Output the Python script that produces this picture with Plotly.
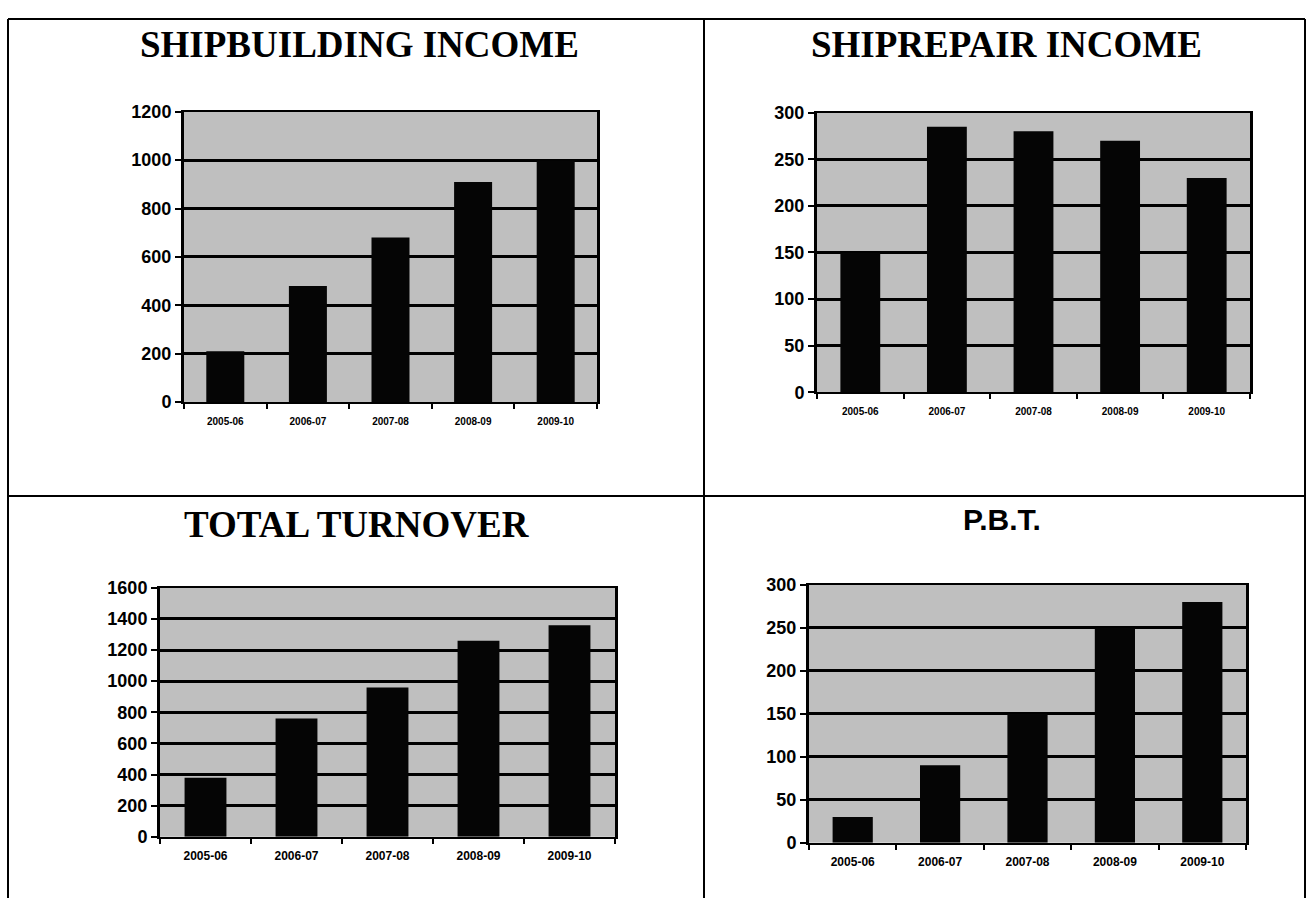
import plotly.graph_objects as go

W, H = 1309, 899          # target picture size (pixels)
FIG_H = 908               # figure height, slightly taller to fill the captured frame

years = ["2005-06", "2006-07", "2007-08", "2008-09", "2009-10"]
shipbuilding = [210, 480, 680, 910, 1000]
shiprepair = [150, 285, 280, 270, 230]
turnover = [380, 760, 960, 1260, 1360]
pbt = [30, 90, 150, 250, 280]

titles = ["SHIPBUILDING INCOME", "SHIPREPAIR INCOME", "TOTAL TURNOVER", "P.B.T."]

def px_x(v):
    return v / W

def px_y(v):
    return 1 - v / H

panels = [
    dict(vals=shipbuilding, rng=[0, 1200], dtick=200, box=(184, 597, 103, 397),
         title_xy=(359, 35), title_font=("Liberation Serif", 37), xfont=10, xstand=9),
    dict(vals=shiprepair, rng=[0, 300], dtick=50, box=(817, 1250, 104, 387),
         title_xy=(1006, 35), title_font=("Liberation Serif", 37), xfont=10, xstand=9),
    dict(vals=turnover, rng=[0, 1600], dtick=200, box=(160, 615, 585, 837),
         title_xy=(357, 521), title_font=("Liberation Serif", 37), xfont=12, xstand=7),
    dict(vals=pbt, rng=[0, 300], dtick=50, box=(809, 1246, 582, 843),
         title_xy=(1002, 516), title_font=("Liberation Sans", 30), xfont=12, xstand=7),
]

fig = go.Figure()
layout = dict(
    width=W, height=FIG_H,
    margin=dict(l=0, r=0, t=0, b=0),
    paper_bgcolor="white",
    plot_bgcolor="#bfbfbf",
    showlegend=False,
    bargap=0.54,
    annotations=[],
    shapes=[],
)

for i, p in enumerate(panels):
    n = i + 1
    xa = "x" if n == 1 else f"x{n}"
    ya = "y" if n == 1 else f"y{n}"
    fig.add_trace(go.Bar(x=years, y=p["vals"], xaxis=xa, yaxis=ya,
                         marker=dict(color="#050505", line=dict(width=0)),
                         hoverinfo="skip"))
    x0, x1, y0, y1 = p["box"]
    xkey = "xaxis" if n == 1 else f"xaxis{n}"
    ykey = "yaxis" if n == 1 else f"yaxis{n}"
    layout[xkey] = dict(
        domain=[px_x(x0), px_x(x1)], anchor=ya, type="category",
        showline=True, linecolor="black", linewidth=2, mirror=True,
        ticks="outside", ticklen=5, tickwidth=2, tickcolor="black",
        tickson="boundaries", showgrid=False, ticklabelstandoff=p["xstand"],
        tickfont=dict(family="Liberation Sans", size=p["xfont"], color="black", weight="bold"),
        fixedrange=True,
    )
    layout[ykey] = dict(
        domain=[px_y(y1), px_y(y0)], anchor=xa, range=p["rng"], dtick=p["dtick"],
        showline=True, linecolor="black", linewidth=3, mirror=True,
        ticks="outside", ticklen=6, tickwidth=2, tickcolor="black",
        showgrid=True, gridcolor="black", gridwidth=3, zeroline=False,
        tickfont=dict(family="Liberation Sans", size=18, color="black", weight="bold"),
        fixedrange=True,
    )
    fam, size = p["title_font"]
    tx, ty = p["title_xy"]
    layout["annotations"].append(dict(
        text=titles[i], x=px_x(tx), y=px_y(ty), xref="paper", yref="paper",
        xanchor="center", yanchor="middle", showarrow=False,
        font=dict(family=fam, size=size, color="black", weight="bold"),
    ))

# table grid lines
L, R, T, M, Hm = 8, 1305, 9, 704, 492
def hline(y, xa, xb):
    return dict(type="line", xref="paper", yref="paper", x0=px_x(xa), x1=px_x(xb),
                y0=px_y(y), y1=px_y(y), line=dict(color="black", width=2))
def vline(x, ya, yb):
    return dict(type="line", xref="paper", yref="paper", x0=px_x(x), x1=px_x(x),
                y0=px_y(ya), y1=px_y(yb), line=dict(color="black", width=2))

layout["shapes"] += [
    hline(T, L, R), hline(Hm, L, R),
    vline(L, T, H), vline(R, T, H), vline(M, T, H),
]

fig.update_layout(**layout)
post = (
    "document.documentElement.style.margin='0';"
    "document.body.style.margin='0';"
    "document.body.style.overflow='hidden';"
    "var d=document.getElementById('{plot_id}');"
    "d.style.position='fixed';d.style.top='0px';d.style.left='0px';"
)
fig.write_html("out.html", config={"displayModeBar": False}, post_script=post)
